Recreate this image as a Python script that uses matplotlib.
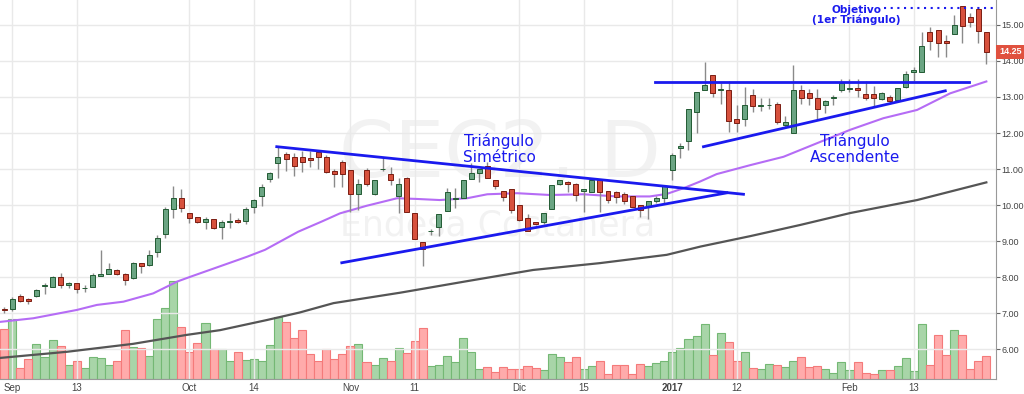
import matplotlib
matplotlib.use("Agg")
import matplotlib.pyplot as plt
import matplotlib.transforms as mtransforms
import numpy as np

# daily candles, CEC2 (Endesa Costanera), one row per trading day
opens = [7.12, 7.11, 7.49, 7.40, 7.48, 7.75, 7.74, 8.00, 7.77, 7.83,
         7.69, 7.74, 8.03, 8.09, 8.20, 8.10, 7.98, 8.39, 8.33, 8.69,
         9.19, 9.89, 10.19, 9.79, 9.66, 9.53, 9.61, 9.39, 9.53, 9.60,
         9.57, 9.94, 10.24, 10.73, 11.18, 11.41, 11.33, 11.33, 11.30, 11.48,
         11.33, 10.95, 11.20, 10.98, 10.30, 10.98, 10.30, 10.99, 10.85, 10.24,
         10.74, 9.77, 8.97, 9.27, 9.40, 9.84, 10.16, 10.19, 10.73, 10.88,
         11.09, 10.70, 10.39, 10.44, 9.99, 9.64, 9.52, 9.54, 9.89, 10.58,
         10.64, 10.58, 10.39, 10.37, 10.69, 10.39, 10.35, 10.30, 10.24, 10.00,
         9.98, 10.10, 10.19, 10.97, 11.59, 11.79, 12.58, 13.20, 13.61, 13.19,
         13.20, 12.38, 12.38, 13.06, 12.76, 12.77, 12.80, 12.22, 11.99, 13.20,
         13.10, 12.98, 12.78, 12.97, 13.20, 13.23, 13.26, 13.08, 13.08, 12.94,
         12.99, 12.92, 13.29, 13.69, 13.68, 14.80, 14.86, 14.56, 14.74, 15.51,
         15.21, 15.44, 14.79]
highs = [7.18, 7.46, 7.52, 7.42, 7.68, 7.83, 8.02, 8.11, 7.87, 7.84,
         7.79, 8.12, 8.76, 8.39, 8.24, 8.12, 8.41, 8.39, 8.76, 9.16,
         9.96, 10.53, 10.44, 9.79, 9.66, 9.68, 9.62, 9.59, 9.79, 9.63,
         9.94, 10.18, 10.58, 10.93, 11.62, 11.46, 11.44, 11.51, 11.50, 11.50,
         11.38, 11.00, 11.26, 10.98, 10.72, 11.03, 10.70, 11.30, 11.05, 10.74,
         10.79, 9.77, 8.97, 9.34, 9.75, 10.48, 10.48, 10.70, 11.18, 11.00,
         11.19, 10.70, 10.39, 10.44, 9.99, 9.76, 9.52, 9.79, 10.55, 10.69,
         10.67, 10.62, 10.44, 10.72, 10.69, 10.39, 10.38, 10.35, 10.24, 10.00,
         10.12, 10.26, 10.56, 11.45, 11.72, 12.66, 13.13, 13.98, 13.61, 13.38,
         13.43, 12.78, 13.29, 13.21, 12.98, 12.98, 12.85, 12.46, 13.89, 13.33,
         13.23, 13.23, 12.92, 13.05, 13.50, 13.50, 13.50, 13.43, 13.30, 13.13,
         13.06, 13.24, 13.71, 13.84, 14.80, 14.95, 14.86, 14.72, 15.28, 15.51,
         15.32, 15.44, 14.79]
lows = [7.00, 7.07, 7.30, 7.25, 7.45, 7.54, 7.73, 7.69, 7.69, 7.55,
        7.59, 7.74, 8.02, 8.09, 8.06, 7.79, 7.96, 8.11, 8.32, 8.55,
        9.10, 9.64, 9.82, 9.50, 9.49, 9.35, 9.33, 9.06, 9.37, 9.49,
        9.47, 9.77, 9.97, 10.64, 10.75, 10.95, 10.81, 10.91, 11.06, 10.99,
        10.90, 10.51, 10.51, 9.82, 9.87, 10.52, 10.28, 10.95, 10.56, 9.77,
        9.82, 9.07, 8.31, 9.17, 9.14, 9.84, 9.91, 10.19, 10.73, 10.63,
        10.74, 10.46, 10.10, 9.78, 9.57, 9.28, 9.46, 9.48, 9.89, 10.56,
        10.36, 10.12, 9.82, 10.37, 9.82, 10.07, 10.06, 10.02, 9.94, 9.68,
        9.62, 10.05, 10.05, 10.70, 11.30, 11.53, 11.99, 13.20, 12.99, 12.81,
        12.04, 12.04, 12.20, 12.58, 12.60, 12.66, 12.26, 12.14, 11.99, 12.80,
        12.78, 12.40, 12.55, 12.78, 13.15, 13.15, 13.01, 12.92, 12.72, 12.92,
        12.80, 12.92, 13.24, 13.43, 13.68, 14.31, 14.12, 14.12, 14.74, 14.51,
        14.95, 14.51, 13.91]
closes = [7.10, 7.39, 7.35, 7.34, 7.65, 7.78, 8.00, 7.78, 7.83, 7.67,
          7.71, 8.05, 8.08, 8.23, 8.09, 7.91, 8.39, 8.32, 8.61, 9.08,
          9.89, 10.19, 9.91, 9.64, 9.52, 9.61, 9.36, 9.52, 9.55, 9.52,
          9.90, 10.14, 10.50, 10.89, 11.33, 11.29, 11.09, 11.19, 11.24, 11.33,
          10.93, 10.86, 10.86, 10.31, 10.58, 10.58, 10.70, 11.01, 10.69, 10.58,
          9.82, 9.07, 8.78, 9.29, 9.75, 10.37, 10.21, 10.70, 10.88, 11.00,
          10.74, 10.54, 10.23, 9.87, 9.59, 9.28, 9.48, 9.77, 10.55, 10.69,
          10.58, 10.29, 10.44, 10.69, 10.35, 10.14, 10.22, 10.10, 9.96, 9.87,
          10.12, 10.19, 10.53, 11.39, 11.65, 12.66, 13.13, 13.33, 13.12, 13.21,
          12.34, 12.29, 12.78, 12.75, 12.79, 12.79, 12.30, 12.30, 13.20, 12.98,
          12.98, 12.66, 12.89, 12.99, 13.40, 13.25, 13.20, 12.97, 12.97, 13.10,
          12.89, 13.24, 13.64, 13.75, 14.40, 14.54, 14.49, 14.49, 15.00, 14.98,
          15.09, 14.84, 14.25]
volume = [150, 179, 34, 60, 105, 66, 117, 98, 41, 55, 33, 67, 62, 43, 53, 147,
          95, 92, 69, 179, 212, 293, 157, 81, 108, 167, 90, 89, 55, 80, 57, 60,
          53, 102, 185, 171, 122, 146, 75, 55, 89, 60, 75, 98, 104, 51, 43, 63,
          53, 93, 77, 114, 152, 39, 41, 68, 51, 124, 80, 31, 35, 21, 35, 30,
          30, 39, 32, 27, 76, 67, 52, 65, 30, 39, 53, 15, 41, 43, 15, 45,
          39, 47, 53, 81, 92, 119, 128, 165, 71, 137, 111, 53, 80, 33, 30, 44,
          43, 35, 55, 65, 35, 38, 31, 19, 50, 26, 50, 19, 14, 26, 27, 38,
          62, 23, 165, 41, 133, 71, 147, 131, 31, 53, 69]

# date labels and the bar they fall on
tick_bars = [1, 9, 23, 31, 43, 51, 64, 72, 83, 91, 105, 113]
tick_names = ["Sep", "13", "Oct", "14", "Nov", "11", "Dic", "15", "2017", "12", "Feb", "13"]

# moving averages (bar, value)
ma_fast_bar = [-0.5, 3.6, 9, 11.5, 14.8, 18.5, 21.5, 23.1, 30.2, 32.4, 36.5, 39.4, 41.7, 45,
               48.8, 51.3, 54.1, 57.5, 60, 63.7, 67.8, 71.9, 76.1, 80.2, 82.3, 84.4, 86.4,
               88.5, 92.7, 96.8, 101, 105.1, 109.2, 113.4, 117.5, 122]
ma_fast_val = [6.76, 6.86, 7.09, 7.23, 7.32, 7.55, 7.88, 8.01, 8.57, 8.76, 9.26, 9.54, 9.77, 9.98,
               10.19, 10.17, 10.14, 10.19, 10.30, 10.33, 10.28, 10.30, 10.24, 10.24, 10.31, 10.47, 10.65,
               10.86, 11.11, 11.34, 11.72, 12.09, 12.41, 12.64, 13.10, 13.43]
ma_slow_bar = [-0.5, 7.8, 16, 22.7, 26.8, 32.6, 36.7, 40.9, 49.2, 57.5, 65.7, 74, 82.3, 86.5,
               92.7, 98.9, 105.1, 113.4, 122]
ma_slow_val = [5.76, 5.93, 6.15, 6.40, 6.53, 6.81, 7.02, 7.28, 7.57, 7.89, 8.20, 8.39, 8.62, 8.85,
               9.14, 9.45, 9.78, 10.14, 10.63]

# trend lines drawn on the chart: (bar1, price1, bar2, price2)
trend_lines = [(33.85, 11.62, 91.83, 10.30),
               (41.93, 8.40, 89.77, 10.34),
               (80.86, 13.41, 119.8, 13.41),
               (86.86, 11.62, 116.9, 13.17)]
target_price = 15.46
last_price = 14.25

UP, UP_EDGE = "#6ba583", "#225b33"
DN, DN_EDGE = "#d7513d", "#7a1d12"
BLUE = "#1a1aee"
TICK_FONT = "Liberation Sans"

o = np.array(opens); h = np.array(highs); l = np.array(lows); c = np.array(closes)
x = np.arange(len(o))
up = c >= o

fig = plt.figure(figsize=(10.24, 3.94), dpi=100)
ax = fig.add_axes([0, 15 / 394, 996 / 1024, 379 / 394])
axv = ax.twinx()
axv.set_zorder(ax.get_zorder() - 1)
ax.patch.set_visible(False)

# volume
axv.bar(x[up], np.array(volume)[up], width=1.0, color="#a8d5a8", edgecolor="#74b874", linewidth=0.8)
axv.bar(x[~up], np.array(volume)[~up], width=1.0, color="#ffabab", edgecolor="#f47a7a", linewidth=0.8)
axv.set_ylim(0, 1137)
axv.set_yticks([])
for s in axv.spines.values():
    s.set_visible(False)

# watermark
ax.text(0.502, 0.59, "CEC2, D", transform=ax.transAxes, fontsize=57, color="#f2f2f2",
        ha="center", va="center", zorder=0)
ax.text(0.50, 0.405, "Endesa Costanera", transform=ax.transAxes, fontsize=25, color="#f2f2f2",
        ha="center", va="center", zorder=0)

# moving averages
ax.plot(ma_slow_bar, ma_slow_val, color="#555555", lw=1.6, zorder=2)
ax.plot(ma_fast_bar, ma_fast_val, color="#b56cf5", lw=1.5, zorder=2)

# candles
ax.vlines(x, l, h, color="#8a8a8a", lw=1, zorder=3)
body_lo = np.minimum(o, c)
body_h = np.maximum(np.abs(c - o), 0.015)
ax.bar(x[up], body_h[up], bottom=body_lo[up], width=0.62, color=UP, edgecolor=UP_EDGE, lw=0.7, zorder=4)
ax.bar(x[~up], body_h[~up], bottom=body_lo[~up], width=0.62, color=DN, edgecolor=DN_EDGE, lw=0.7, zorder=4)

# trend lines
for x1, y1, x2, y2 in trend_lines:
    ax.plot([x1, x2], [y1, y2], color=BLUE, lw=2, zorder=5)
ax.plot([109.3, 123.0], [target_price, target_price], color=BLUE, lw=1.5, ls=(0, (1, 2.2)), zorder=5)

ax.text(61.5, 11.55, "Triángulo\nSimétrico", color=BLUE, fontsize=11, ha="center", va="center",
        linespacing=1.05, zorder=6)
ax.text(105.7, 11.55, "Triángulo\nAscendente", color=BLUE, fontsize=11, ha="center", va="center",
        linespacing=1.05, zorder=6)
ax.text(105.9, 15.28, "Objetivo\n(1er Triángulo)", color=BLUE, fontsize=7.6, fontweight="bold",
        ha="center", va="center", linespacing=1.0, zorder=6)

# axes styling
ax.set_xlim(-0.53, 123.2)
ax.set_ylim(5.175, 15.69)
ax.yaxis.tick_right()
ax.set_yticks(np.arange(6, 16, 1))
ax.set_yticklabels([f"{v:.2f}" for v in np.arange(6, 16, 1)], fontfamily=TICK_FONT)
ax.set_xticks(tick_bars)
ax.set_xticklabels(tick_names, fontfamily=TICK_FONT)
for lab in ax.get_xticklabels():
    if lab.get_text() == "2017":
        lab.set_fontweight("bold")
ax.tick_params(axis="y", labelsize=6.5, colors="#666666", length=3, width=0.8, pad=1, labelcolor="#444444")
ax.tick_params(axis="x", labelsize=7, colors="#666666", length=0, pad=3, labelcolor="#444444")
ax.grid(True, color="#e9e9e9", lw=1)
ax.set_axisbelow(True)
for side in ["top", "left"]:
    ax.spines[side].set_visible(False)
ax.spines["right"].set_color("#999999")
ax.spines["bottom"].set_color("#999999")

trans = mtransforms.blended_transform_factory(ax.transAxes, ax.transData)
ax.text(1.003, last_price, "14.25", transform=trans, color="white", fontsize=6.5, fontweight="bold",
        fontfamily=TICK_FONT, ha="left", va="center", clip_on=False, zorder=7,
        bbox=dict(facecolor="#e0513f", edgecolor="none", pad=1.8))

fig.savefig("out.png", dpi=100)
